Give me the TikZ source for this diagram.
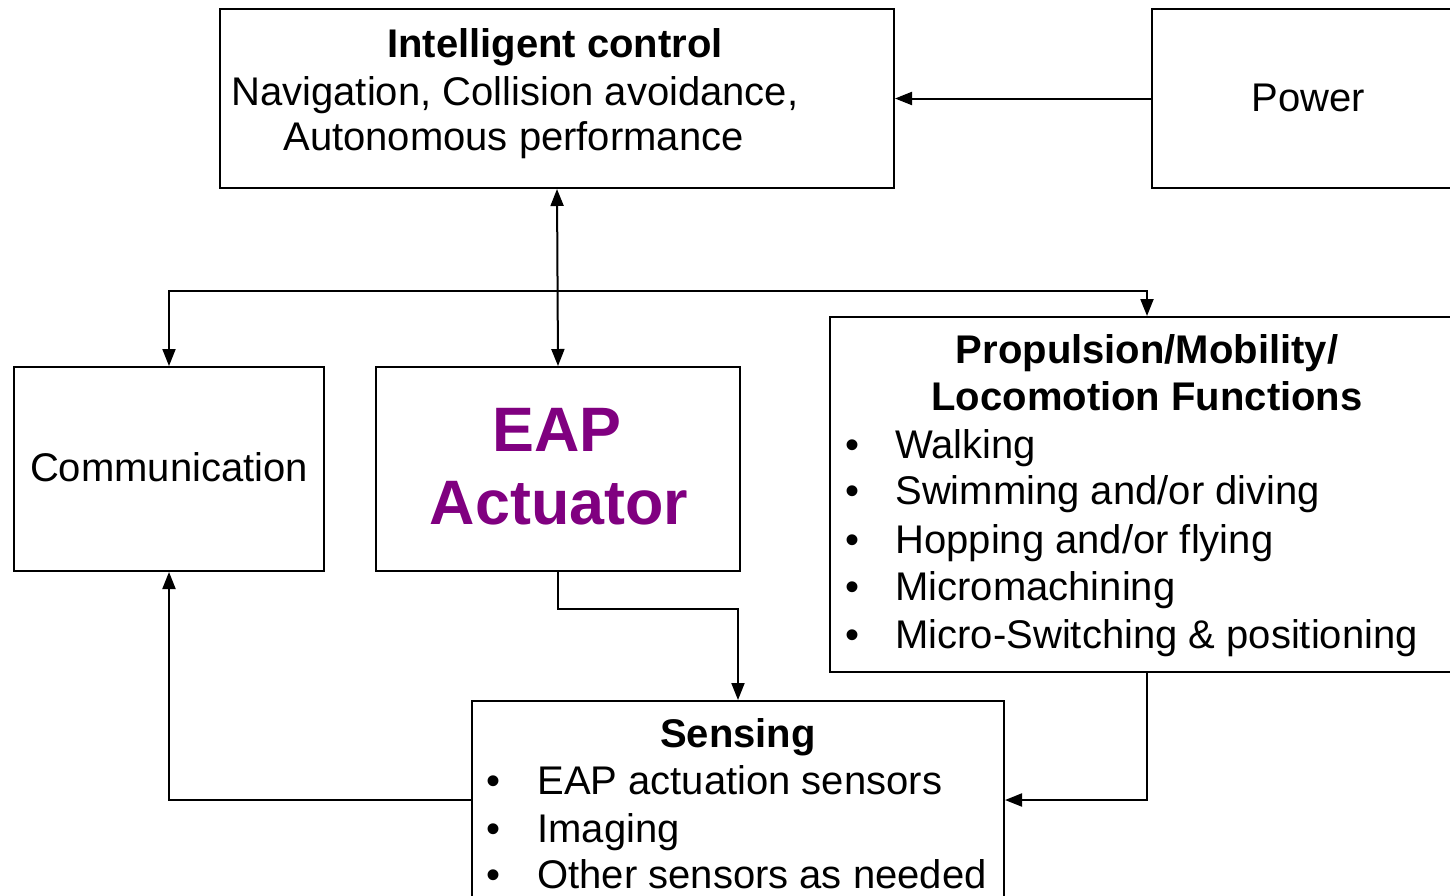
\documentclass[tikz,border=0pt]{standalone}
\usepackage{fontspec}
\setmainfont{Liberation Sans}
\usetikzlibrary{arrows.meta}
\definecolor{eappurple}{HTML}{800080}
\tikzset{
  box/.style={draw, line width=1pt, rectangle, inner sep=0pt},
  txt/.style={inner sep=0pt, font=\fontsize{20pt}{24pt}\selectfont},
  ttl/.style={txt, font=\fontsize{20pt}{24pt}\selectfont\bfseries},
  big/.style={inner sep=0pt, text=eappurple, font=\fontsize{31.4pt}{36pt}\selectfont\bfseries},
  conn/.style={line width=1pt, -{Triangle[length=8.5pt,width=6.5pt]}},
  dconn/.style={line width=1pt, {Triangle[length=8.5pt,width=6.5pt]}-{Triangle[length=8.5pt,width=6.5pt]}},
}
\begin{document}
\begin{tikzpicture}[x=0.5pt,y=-0.5pt]
\useasboundingbox (0,0) rectangle (1450,895);
\clip (0,0) rectangle (1450,895);
% boxes
\node[box, minimum width=337pt, minimum height=89.5pt] (ic) at (557,98.5) {};
\node[box, minimum width=156pt, minimum height=89.5pt] (pow) at (1308,98.5) {};
\node[box, minimum width=155pt, minimum height=102pt] (comm) at (169,469) {};
\node[box, minimum width=182pt, minimum height=102pt] (eap) at (558,469) {};
\node[box, minimum width=317pt, minimum height=177.5pt] (prop) at (1147,494.5) {};
\node[box, minimum width=266pt, minimum height=99pt] (sens) at (738,800) {};
% texts
\node[ttl, anchor=base] (t1) at (555,57) {Intelligent control};
\node[txt, anchor=base west] (t2) at (231,105) {Navigation, Collision avoidance,};
\node[txt, anchor=base west] (t3) at (283,150) {Autonomous performance};
\node[txt, anchor=base] (tp) at (1308,111) {Power};
\node[txt, anchor=base] (tc) at (169,481) {Communication};
\node[big, anchor=base] (te1) at (557,451) {EAP};
\node[big, anchor=base] (te2) at (559,524) {Actuator};
\node[ttl, anchor=base] (tpr1) at (1147,363) {Propulsion/Mobility/};
\node[ttl, anchor=base] (tpr2) at (1147,410) {Locomotion Functions};
\foreach \n/\y/\s in {a/458/{Walking}, b/504/{Swimming and/or diving}, c/553/{Hopping and/or flying}, d/600/{Micromachining}, e/648/{Micro-Switching \& positioning}}{
  \node[txt, anchor=base] (pb\n) at (852,\y) {•};
  \node[txt, anchor=base west] (pt\n) at (895,\y) {\s};
}
\node[ttl, anchor=base] (ts) at (738,747) {Sensing};
\foreach \n/\y/\s in {a/794/{EAP actuation sensors}, b/842/{Imaging}, c/888/{Other sensors as needed}}{
  \node[txt, anchor=base] (sb\n) at (493,\y) {•};
  \node[txt, anchor=base west] (st\n) at (537,\y) {\s};
}
% connectors
\coordinate (bus) at (557,291);
\coordinate (es) at (650,609);
\draw[conn] (pow.west) -- (ic.east);
\draw[dconn] (ic.south) -- (eap.north);
\draw[dconn] (comm.north) |- (bus) -| (prop.north);
\draw[conn] (eap.south) |- (es) -| (sens.north);
\draw[conn] (sens.west) -| (comm.south);
\draw[conn] (prop.south) |- (sens.east);
\end{tikzpicture}
\end{document}
